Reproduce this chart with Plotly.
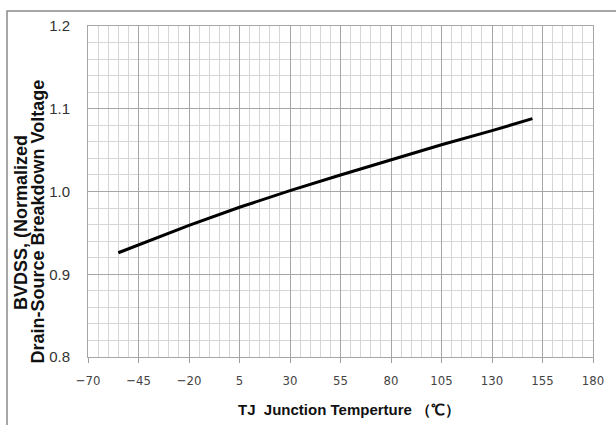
import plotly.graph_objects as go

# Normalized BVDSS vs junction temperature
temp_c = [-55, -45, -20, 5, 30, 55, 80, 105, 130, 150]
bvdss_norm = [0.926, 0.9355, 0.959, 0.981, 1.001, 1.020, 1.0385, 1.0565, 1.0735, 1.088]

x_ticks = [-70, -45, -20, 5, 30, 55, 80, 105, 130, 155, 180]
y_ticks = [0.8, 0.9, 1.0, 1.1, 1.2]

y_title_1 = 'BVDSS, (Normalized'
y_title_2 = 'Drain-Source Breakdown Voltage'
x_title = 'TJ  Junction Temperture （℃）'

fig = go.Figure()

fig.add_trace(go.Scatter(
    x=temp_c,
    y=bvdss_norm,
    mode='lines',
    line=dict(color='#000000', width=3),
    showlegend=False
))

# outer frame of the picture
fig.add_shape(
    type='rect', xref='paper', yref='paper',
    x0=-0.1604, x1=1.1, y0=-0.25, y1=1.0453,
    line=dict(color='#8a8a8a', width=1.5), layer='below'
)

# axis titles as annotations (tight two-line spacing like the original)
title_font = dict(family='Arial, Liberation Sans', size=18, color='#111111')
fig.add_annotation(text='<b>' + y_title_1 + '</b>', xref='paper', yref='paper',
                   x=-0.1327, y=0.408, textangle=-90, showarrow=False,
                   xanchor='center', yanchor='middle', font=title_font)
fig.add_annotation(text='<b>' + y_title_2 + '</b>', xref='paper', yref='paper',
                   x=-0.1, y=0.408, textangle=-90, showarrow=False,
                   xanchor='center', yanchor='middle', font=title_font)
fig.add_annotation(text='<b>' + x_title + '</b>', xref='paper', yref='paper',
                   x=0.517, y=-0.160, showarrow=False,
                   xanchor='center', yanchor='middle',
                   font=dict(family='Arial, Liberation Sans', size=15, color='#111111'))

fig.update_layout(
    template='none',
    width=616, height=425,
    paper_bgcolor='#ffffff',
    plot_bgcolor='#ffffff',
    margin=dict(l=88, r=23, t=26, b=68),
    font=dict(family='Arial, Liberation Sans', color='#222222'),
    xaxis=dict(
        range=[-70, 180],
        tickvals=x_ticks,
        ticks='outside', ticklen=5, tickcolor='#a0a0a0',
        ticklabelstandoff=6,
        tickfont=dict(family='DejaVu Sans Condensed, Liberation Sans', size=13, color='#444444'),
        showgrid=True, gridcolor='#a6a6a6', gridwidth=1,
        minor=dict(dtick=5, showgrid=True, gridcolor='#d6d6d6', gridwidth=1),
        showline=True, linecolor='#a6a6a6', mirror=True,
        zeroline=False, automargin=False,
    ),
    yaxis=dict(
        range=[0.8, 1.2],
        tickvals=y_ticks,
        tickformat='.1f',
        ticks='',
        ticklabelstandoff=14,
        tickfont=dict(family='Arial, Liberation Sans', size=15, color='#333333'),
        showgrid=True, gridcolor='#a6a6a6', gridwidth=1,
        minor=dict(dtick=0.02, showgrid=True, gridcolor='#d6d6d6', gridwidth=1),
        showline=True, linecolor='#a6a6a6', mirror=True,
        zeroline=False, automargin=False,
    ),
)

fig.write_html("out.html",
               config={'displayModeBar': False},
               post_script="document.body.style.margin='0';document.body.style.overflow='hidden';")
